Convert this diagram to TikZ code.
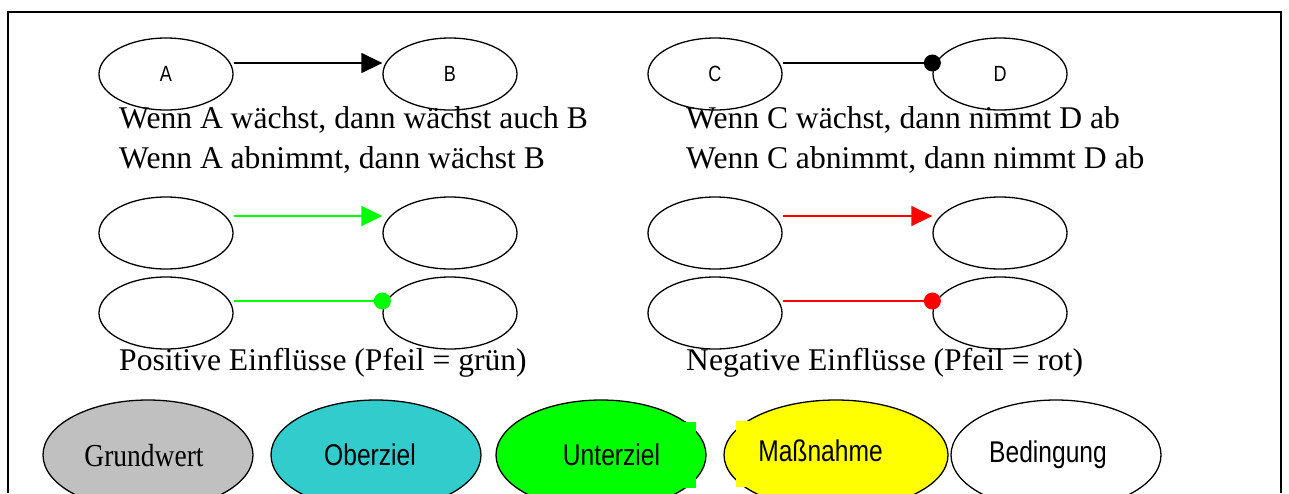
\documentclass[tikz,border=0pt]{standalone}
\usepackage{fontspec}
\setmainfont{Liberation Serif}
\newfontfamily\narrowsans[FakeStretch=0.82]{Liberation Sans}
\newfontfamily\condserif[FakeStretch=0.86]{Liberation Serif}
\usetikzlibrary{arrows.meta,shapes.geometric}
\definecolor{greyfill}{HTML}{C0C0C0}
\definecolor{tealfill}{HTML}{33CCCC}
\definecolor{limefill}{HTML}{00FF00}
\definecolor{yellowfill}{HTML}{FFFF00}
\definecolor{redline}{HTML}{FF0000}
\begin{document}
\begin{tikzpicture}[x=1pt,y=-1pt,
  smallell/.style={ellipse, draw, line width=1.3pt, minimum width=134pt, minimum height=72pt, inner sep=0pt, font=\narrowsans\fontsize{22}{24}\selectfont},
  bigell/.style={ellipse, draw, line width=1.3pt, minimum width=210pt, minimum height=110pt, inner sep=0pt},
  sanslabel/.style={inner sep=0pt, font=\narrowsans\fontsize{30}{34}\selectfont},
  seriflabel/.style={inner sep=0pt, font=\condserif\fontsize{32}{36}\selectfont},
  bodytext/.style={anchor=base west, inner sep=0pt, font=\fontsize{31.6}{36}\selectfont},
  connector/.style={line width=1.4pt},
  arrowtip/.style={connector, -{Triangle[length=21pt,width=20pt]}},
  dottip/.style={connector, -{Circle[length=17pt]}, shorten >=-8.5pt},
]
\useasboundingbox (0,0) rectangle (1289,493);
\fill[white] (0,0) rectangle (1289,493);

% frame
\draw[line width=2pt] (8,493) -- (8,12) -- (1281,12) -- (1281,493);

% top row
\node[smallell] (A) at (166,74) {A};
\node[smallell] (B) at (450,74) {B};
\node[smallell] (C) at (715,74) {C};
\node[smallell] (D) at (1000,74) {D};
\draw[arrowtip] ([yshift=11pt]A.east) -- ([yshift=11pt]B.west);
\draw[dottip] ([yshift=11pt]C.east) -- ([yshift=11pt]D.west);

\node[bodytext] (t1) at (119,128) {Wenn A wächst, dann wächst auch B};
\node[bodytext] (t2) at (119,168) {Wenn A abnimmt, dann wächst B};
\node[bodytext] (t3) at (686,128) {Wenn C wächst, dann nimmt D ab};
\node[bodytext] (t4) at (686,168) {Wenn C abnimmt, dann nimmt D ab};

% second block
\node[smallell] (p1) at (166,233) {};
\node[smallell] (p2) at (450,233) {};
\node[smallell] (p3) at (166,313) {};
\node[smallell] (p4) at (450,313) {};
\node[smallell] (n1) at (715,233) {};
\node[smallell] (n2) at (1000,233) {};
\node[smallell] (n3) at (715,313) {};
\node[smallell] (n4) at (1000,313) {};
\draw[arrowtip, limefill] ([yshift=17pt]p1.east) -- ([yshift=17pt]p2.west);
\draw[dottip, limefill] ([yshift=12pt]p3.east) -- ([yshift=12pt]p4.west);
\draw[arrowtip, redline] ([yshift=17pt]n1.east) -- ([yshift=17pt]n2.west);
\draw[dottip, redline] ([yshift=12pt]n3.east) -- ([yshift=12pt]n4.west);

\node[bodytext] (t5) at (119,370) {Positive Einflüsse (Pfeil = grün)};
\node[bodytext] (t6) at (686,370) {Negative Einflüsse (Pfeil = rot)};

% legend
\node[bigell, fill=greyfill] (grund) at (148,455) {};
\node[seriflabel] (grundT) at (144,456) {Grundwert};
\node[bigell, fill=tealfill] (ober) at (376,455) {};
\node[sanslabel] (oberT) at (370,455) {Oberziel};
\node[bigell, fill=limefill] (unter) at (601,455) {};
\node[sanslabel, fill=limefill, minimum width=169pt, minimum height=66pt] (unterT) at (611.5,455) {Unterziel};
\node[bigell, fill=yellowfill, minimum width=224pt] (mass) at (836,455) {};
\node[sanslabel, fill=yellowfill, minimum width=169pt, minimum height=66pt] (massT) at (820.5,454) {\raisebox{7pt}{Maßnahme}};
\node[bigell, fill=white] (bed) at (1056,455) {};
\node[sanslabel] (bedT) at (1048,455) {Bedingung};
\end{tikzpicture}
\end{document}
